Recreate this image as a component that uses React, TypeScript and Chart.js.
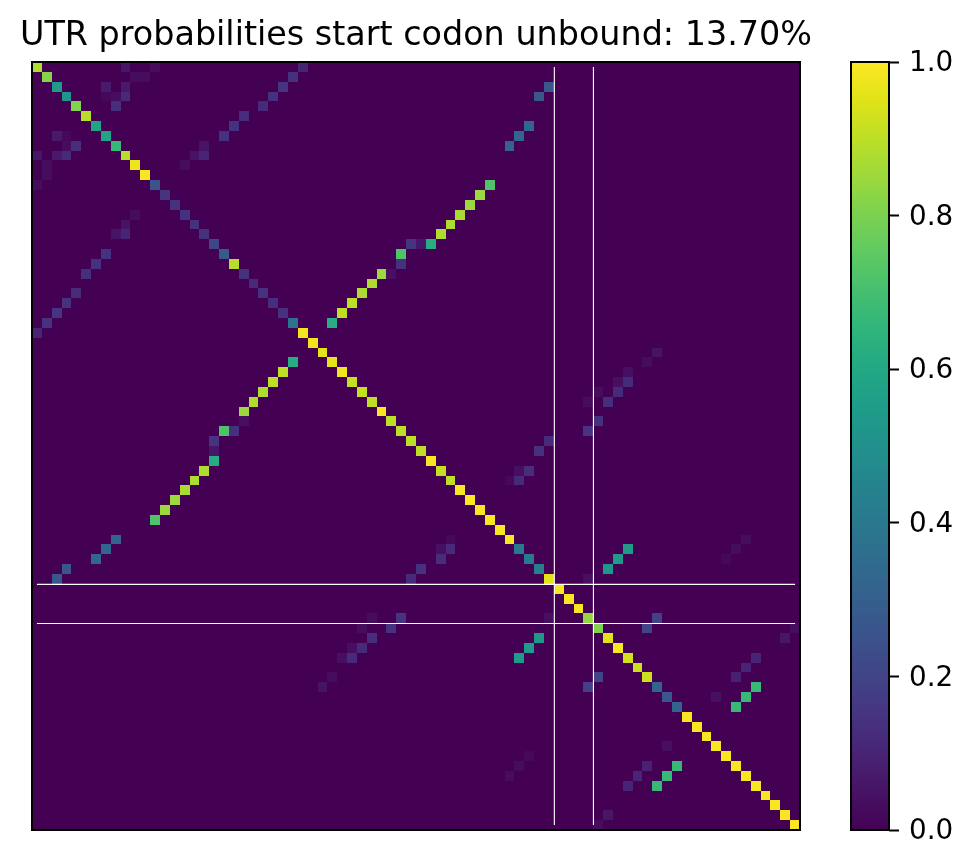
import React, { useEffect, useRef } from "react";
import { Chart, registerables, ScatterController, PointElement } from "chart.js";

const TITLE = "UTR probabilities start codon unbound: 13.70%";
const SIZE = 78;

const diagonal = [
  0.88, 0.82, 0.55, 0.52, 0.81, 0.89, 0.58, 0.58, 0.67, 0.89, 0.97, 0.99, 0.25, 0.15, 0.14, 0.14,
  0.14, 0.14, 0.2, 0.28, 0.89, 0.14, 0.12, 0.14, 0.13, 0.14, 0.37, 0.98, 0.98, 0.96, 0.96, 0.98,
  0.91, 0.91, 0.9, 0.99, 0.9, 0.9, 0.9, 0.9, 0.99, 0.91, 0.9, 0.99, 1, 0.99, 0.99, 0.99,
  0.99, 0.4, 0.41, 0.42, 0.96, 0.99, 0.99, 0.99, 0.84, 0.81, 0.95, 0.99, 0.93, 0.92, 0.92, 0.32,
  0.27, 0.32, 0.99, 0.99, 0.99, 0.99, 0.99, 0.99, 0.99, 0.99, 0.99, 0.99, 0.99, 0.99,
];

// [row, column, probability]; the matrix is symmetric.
const upperPairs: [number, number, number][] = [
  [0, 9, 0.06], [0, 12, 0.03], [0, 27, 0.1], [1, 10, 0.03], [1, 11, 0.03], [1, 26, 0.14],
  [2, 7, 0.07], [2, 9, 0.07], [2, 25, 0.15], [2, 52, 0.27], [3, 7, 0.02], [3, 8, 0.03],
  [3, 9, 0.12], [3, 24, 0.14], [3, 51, 0.27], [4, 8, 0.13], [4, 23, 0.12], [5, 21, 0.13],
  [6, 20, 0.14], [6, 50, 0.33], [7, 19, 0.14], [7, 49, 0.33], [8, 17, 0.05], [8, 48, 0.32],
  [9, 16, 0.05], [9, 17, 0.1], [10, 15, 0.03], [12, 46, 0.72], [13, 45, 0.85], [14, 44, 0.85],
  [15, 43, 0.87], [16, 42, 0.88], [17, 41, 0.88], [18, 38, 0.15], [18, 39, 0.06], [18, 40, 0.62],
  [19, 37, 0.72], [20, 37, 0.14], [21, 35, 0.85], [21, 36, 0.04], [22, 34, 0.88], [23, 33, 0.88],
  [24, 32, 0.9], [25, 31, 0.9], [26, 30, 0.62], [29, 63, 0.05], [30, 62, 0.03], [31, 60, 0.04],
  [32, 59, 0.04], [32, 60, 0.12], [33, 57, 0.03], [33, 59, 0.12], [34, 56, 0.03], [34, 58, 0.13],
  [36, 57, 0.14], [37, 56, 0.15], [38, 52, 0.12], [39, 51, 0.14], [41, 49, 0.04], [41, 50, 0.13],
  [42, 48, 0.02], [42, 49, 0.12], [48, 72, 0.03], [49, 60, 0.55], [49, 71, 0.03], [50, 59, 0.55],
  [50, 70, 0.02], [51, 58, 0.53], [52, 56, 0.04], [56, 63, 0.19], [57, 62, 0.2], [57, 77, 0.03],
  [58, 76, 0.06], [60, 73, 0.1], [61, 72, 0.1], [62, 71, 0.09], [63, 73, 0.67], [64, 69, 0.04],
  [64, 72, 0.67], [65, 71, 0.67],
];

const guideLines = [52.55, 56.52];
const guideStart = 0;
const guideEnd = 77;
const colorbarTicks = [0, 0.2, 0.4, 0.6, 0.8, 1];

const viridis = [
  "#440154", "#471365", "#482475", "#463480", "#414487", "#3b528b", "#355f8d",
  "#2f6c8e", "#2a788e", "#25848e", "#21918c", "#1e9c89", "#22a884", "#2fb47c",
  "#44bf70", "#5ec962", "#7ad151", "#9bd93c", "#bddf26", "#dfe318", "#fde725",
];

const hexRgb = (h: string) => [1, 3, 5].map((i) => parseInt(h.slice(i, i + 2), 16));
function colorOf(v: number) {
  const p = Math.min(1, Math.max(0, v)) * (viridis.length - 1);
  const i = Math.min(viridis.length - 2, Math.floor(p));
  const a = hexRgb(viridis[i]);
  const b = hexRgb(viridis[i + 1]);
  const t = p - i;
  return `rgb(${a.map((c, k) => Math.round(c + (b[k] - c) * t)).join(",")})`;
}

class CellElement extends PointElement {
  static id = "cell";
  static defaults = { ...PointElement.defaults };
  draw(ctx: CanvasRenderingContext2D) {
    const { x, y } = this as any;
    const o = (this as any).options;
    const r = o.radius;
    const x0 = Math.round(x - r);
    const x1 = Math.round(x + r);
    const y0 = Math.round(y - r);
    const y1 = Math.round(y + r);
    ctx.fillStyle = o.backgroundColor;
    ctx.fillRect(x0, y0, x1 - x0, y1 - y0);
  }
}

class HeatController extends ScatterController {
  static id = "heat";
  static defaults = { ...ScatterController.defaults, dataElementType: "cell" };
}

Chart.register(...registerables, CellElement, HeatController);

const spines = {
  id: "spines",
  afterDatasetsDraw(chart: any) {
    const { left, top, width, height } = chart.chartArea;
    const ctx = chart.ctx;
    ctx.save();
    ctx.strokeStyle = "#000";
    ctx.lineWidth = 2;
    ctx.strokeRect(left, top, width, height);
    ctx.restore();
  },
};

// The title is wider than the plot: give its box room on both sides, centred on the plot.
const wideTitle = {
  id: "wideTitle",
  afterLayout(chart: any) {
    const t = chart.titleBlock;
    if (t) {
      t.left = 0;
      t.right = chart.chartArea.left + chart.chartArea.right;
    }
  },
};

export default function App() {
  const mainRef = useRef<HTMLCanvasElement>(null);
  const barRef = useRef<HTMLCanvasElement>(null);

  useEffect(() => {
    const matrix = new Map<string, number>();
    diagonal.forEach((v, i) => matrix.set(`${i},${i}`, v));
    upperPairs.forEach(([r, c, v]) => {
      matrix.set(`${r},${c}`, v);
      matrix.set(`${c},${r}`, v);
    });
    const cells: { x: number; y: number; v: number }[] = [];
    for (let r = 0; r < SIZE; r++) {
      for (let c = 0; c < SIZE; c++) {
        cells.push({ x: c, y: r, v: matrix.get(`${r},${c}`) ?? 0 });
      }
    }
    const guide = { type: "scatter", showLine: true, pointRadius: 0, borderColor: "#fff", borderWidth: 1.1 };
    const main = new Chart(mainRef.current!, {
      type: "heat" as any,
      data: {
        datasets: [
          ...guideLines.map((g) => ({ ...guide, data: [{ x: g, y: guideStart }, { x: g, y: guideEnd }] })),
          ...guideLines.map((g) => ({ ...guide, data: [{ x: guideStart, y: g }, { x: guideEnd, y: g }] })),
          {
            data: cells,
            radius: (ctx: any) => ctx.chart.scales.x.width / SIZE / 2,
            backgroundColor: (ctx: any) => colorOf(ctx.raw?.v ?? 0),
          },
        ] as any,
      },
      options: {
        animation: false,
        responsive: false,
        events: [],
        layout: { padding: { left: 32, right: 173, top: 16.5, bottom: 37 } },
        plugins: {
          legend: { display: false },
          tooltip: { enabled: false },
          title: {
            display: true,
            text: TITLE,
            color: "#000",
            font: { family: "DejaVu Sans", size: 33.4, weight: "normal", lineHeight: 1.2 },
            padding: { top: 0, bottom: 5.42 },
          },
        },
        scales: {
          x: { type: "linear", min: -0.5, max: SIZE - 0.5, display: false },
          y: { type: "linear", min: -0.5, max: SIZE - 0.5, reverse: true, display: false },
        },
      } as any,
      plugins: [spines, wideTitle],
    });

    const bar = new Chart(barRef.current!, {
      type: "bar",
      data: {
        labels: ["colorbar"],
        datasets: [
          {
            data: [[0, 1]],
            barPercentage: 1,
            categoryPercentage: 1,
            inflateAmount: 0,
            backgroundColor: (ctx: any) => {
              const area = ctx.chart.chartArea;
              if (!area) return viridis[0];
              const g = ctx.chart.ctx.createLinearGradient(0, area.bottom, 0, area.top);
              viridis.forEach((c, i) => g.addColorStop(i / (viridis.length - 1), c));
              return g;
            },
          },
        ],
      } as any,
      options: {
        animation: false,
        responsive: false,
        events: [],
        layout: { padding: { left: 31, right: 0, top: 62, bottom: 37 } },
        plugins: { legend: { display: false }, tooltip: { enabled: false } },
        scales: {
          x: { display: false },
          y: {
            type: "linear",
            position: "right",
            min: 0,
            max: 1,
            afterBuildTicks: (s: any) => {
              s.ticks = colorbarTicks.map((value) => ({ value }));
            },
            afterFit: (s: any) => {
              s.width = 84;
            },
            border: { display: false },
            grid: { drawOnChartArea: false, drawTicks: true, tickLength: 10, tickWidth: 2, tickColor: "#000" },
            ticks: {
              color: "#000",
              padding: 10,
              labelOffset: 2,
              font: { family: "DejaVu Sans", size: 27.8 },
              callback: (v: any) => Number(v).toFixed(1),
            },
          },
        },
      } as any,
      plugins: [spines],
    });
    return () => {
      main.destroy();
      bar.destroy();
    };
  }, []);

  return (
    <div style={{ position: "fixed", left: 0, top: 0, width: 973, height: 867, background: "#fff", overflow: "hidden" }}>
      <canvas ref={mainRef} width={973} height={867} style={{ position: "absolute", left: 0, top: 0, width: 973, height: 867 }} />
      <canvas ref={barRef} width={153} height={867} style={{ position: "absolute", left: 820, top: 0, width: 153, height: 867 }} />
    </div>
  );
}
